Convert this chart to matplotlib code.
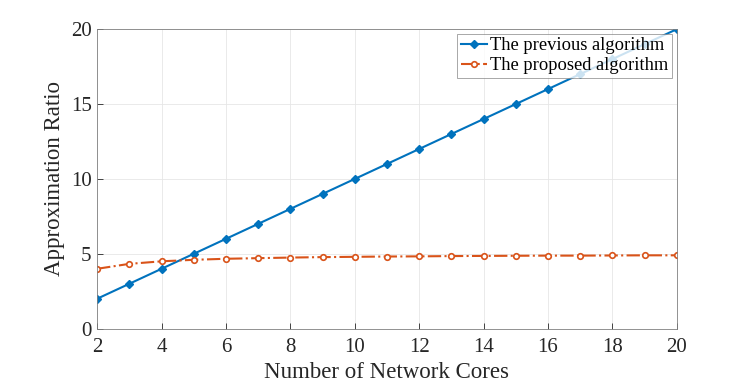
import matplotlib
matplotlib.use("Agg")
import matplotlib.pyplot as plt

# data
cores = [2, 3, 4, 5, 6, 7, 8, 9, 10, 11, 12, 13, 14, 15, 16, 17, 18, 19, 20]
previous = [2, 3, 4, 5, 6, 7, 8, 9, 10, 11, 12, 13, 14, 15, 16, 17, 18, 19, 20]
proposed = [4.0, 4.33, 4.5, 4.6, 4.67, 4.71, 4.75, 4.78, 4.8, 4.82, 4.83,
            4.85, 4.86, 4.87, 4.88, 4.88, 4.89, 4.9, 4.9]
xticks = [2, 4, 6, 8, 10, 12, 14, 16, 18, 20]
yticks = [0, 5, 10, 15, 20]

plt.rcParams['font.family'] = ['Liberation Serif', 'DejaVu Serif']

fig = plt.figure(figsize=(7.47, 3.84), dpi=100)
ax = fig.add_axes([0.130, 0.144, 0.776, 0.780])

ax.plot(cores, previous, '-', color='#0072BD', linewidth=1.5,
        marker='D', markersize=4, label='The previous algorithm')
ax.plot(cores, proposed, '-.', color='#D95319', linewidth=1.5,
        marker='o', markersize=4, markerfacecolor='white',
        markeredgewidth=1.2, label='The proposed algorithm')

ax.set_xlim(2, 20)
ax.set_ylim(0, 20)
ax.set_xticks(xticks)
ax.set_yticks(yticks)
ax.tick_params(direction='in', labelsize=15, colors='#262626', length=4, width=0.6)
ax.tick_params(axis='x', pad=7)
ax.tick_params(axis='y', pad=4)
ax.grid(True, color='#e6e6e6', linewidth=0.6)
ax.set_axisbelow(True)
for s in ax.spines.values():
    s.set_color('#808080')
    s.set_linewidth(0.6)

ax.set_xlabel('Number of Network Cores', fontsize=16.5, color='#262626', labelpad=3)
ax.set_ylabel('Approximation Ratio', fontsize=16.5, color='#262626', labelpad=4)

leg = ax.legend(loc='upper right', fontsize=13.3, frameon=True, fancybox=False,
                edgecolor='#808080', borderpad=0.2, labelspacing=0.15,
                handlelength=1.4, handletextpad=0.2, borderaxespad=0.25)
leg.get_frame().set_linewidth(0.6)

fig.savefig('out.png', dpi=100)
